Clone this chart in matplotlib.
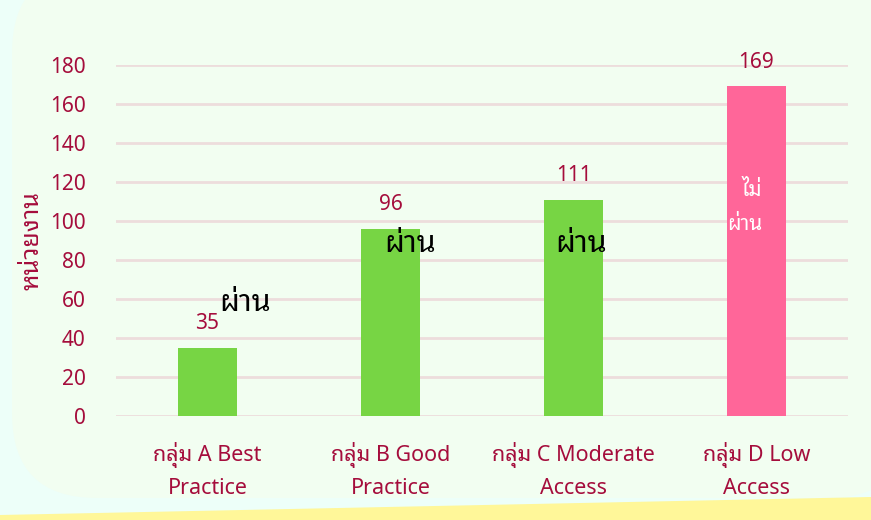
import matplotlib
matplotlib.use("Agg")
import matplotlib.pyplot as plt
from matplotlib.patches import FancyBboxPatch, Polygon

# data
categories = ["กลุ่ม A Best\nPractice", "กลุ่ม B Good\nPractice",
              "กลุ่ม C Moderate\nAccess", "กลุ่ม D Low\nAccess"]
counts = [35, 96, 111, 169]
status = ["ผ่าน", "ผ่าน", "ผ่าน", "ไม่\nผ่าน"]
y_ticks = [0, 20, 40, 60, 80, 100, 120, 140, 160, 180]
y_label = "หน่วยงาน"

GREEN = "#77D544"
PINK = "#FF6699"
CRIMSON = "#A50D3C"

plt.rcParams["font.family"] = ["Noto Sans Thai Looped", "Noto Sans", "DejaVu Sans"]

W, H = 871, 520
fig = plt.figure(figsize=(W / 100, H / 100), dpi=100, facecolor="#EDFFF9")

# rounded panel + yellow strip, in pixels
panel = FancyBboxPatch((12, 22), 900, 530,
                       boxstyle="round,pad=0,rounding_size=85",
                       transform=None, facecolor="#F2FEF1",
                       edgecolor="none", zorder=-2)
fig.patches.append(panel)
strip = Polygon([(0, 0), (0, 5 / H), (1, 23 / H), (1, 0)], closed=True,
                transform=fig.transFigure, facecolor="#FFF799",
                edgecolor="none", zorder=-1)
fig.patches.append(strip)

ax = fig.add_axes([116 / W, 1 - 416 / H, 732 / W, 351 / H])
ax.set_facecolor("none")

colors = [GREEN, GREEN, GREEN, PINK]
x = range(len(categories))
ax.bar(x, counts, width=0.32, color=colors, zorder=3)

for i, v in enumerate(counts):
    ax.annotate(str(v), (i, v), xytext=(0, 10), textcoords="offset points",
                ha="center", va="bottom", fontsize=15, color=CRIMSON)

# pass / fail notes
note_pos = [(0.205, 58), (1.107, 88), (2.04, 88)]
for (nx, ny), s in zip(note_pos, status[:3]):
    ax.text(nx, ny, s, ha="center", va="center", fontsize=22,
            fontweight="bold", color="black", zorder=4)
ax.text(2.937, 107, status[3], ha="center", va="center", fontsize=15,
        color="white", zorder=4, linespacing=1.85, multialignment="right")

ax.set_ylim(0, 180)
ax.set_xlim(-0.5, 3.5)
ax.set_yticks(y_ticks)
ax.set_xticks(list(x))
ax.set_xticklabels(categories, linespacing=1.6)
ax.tick_params(axis="y", length=0, pad=22, labelsize=15, labelcolor=CRIMSON)
ax.tick_params(axis="x", length=0, pad=19, labelsize=15.5, labelcolor=CRIMSON)
ax.grid(axis="y", color="#EDDDDC", linewidth=2, zorder=0)
for s in ax.spines.values():
    s.set_visible(False)

ax.set_ylabel(y_label, fontsize=18, fontweight="bold", color=CRIMSON)
ax.yaxis.set_label_coords(-0.098, 0.5)

fig.savefig("out.png", dpi=100, facecolor=fig.get_facecolor())
